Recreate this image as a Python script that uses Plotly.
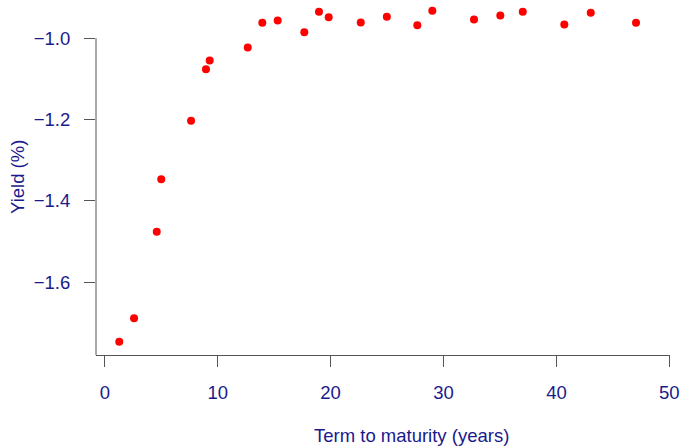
import plotly.graph_objects as go

term_years = [1.28, 2.59, 4.60, 5.00, 7.64, 8.96, 9.29, 12.66, 13.95, 15.31, 17.67,
              18.97, 19.83, 22.67, 24.98, 27.68, 29.01, 32.70, 35.03, 37.02, 40.70,
              43.04, 47.05]
yield_pct = [-1.747, -1.689, -1.476, -1.347, -1.203, -1.076, -1.055, -1.023, -0.962,
             -0.956, -0.985, -0.935, -0.948, -0.961, -0.947, -0.968, -0.932, -0.954,
             -0.944, -0.935, -0.966, -0.937, -0.962]
x_ticks = [0, 10, 20, 30, 40, 50]
y_ticks = [-1.6, -1.4, -1.2, -1.0]
y_tick_labels = ["\u22121.6", "\u22121.4", "\u22121.2", "\u22121.0"]

TXT = "#1a1a8c"
AX = "#555555"
FONT = "Liberation Sans, Arial, sans-serif"
FS = 18.5

Y_LO, Y_HI = -1.7795, -0.9058

fig = go.Figure()
fig.add_trace(go.Scatter(
    x=term_years, y=yield_pct, mode="markers",
    marker=dict(color="#ff0000", size=8, line=dict(width=0)),
    cliponaxis=False, showlegend=False,
))

fig.update_layout(
    width=682, height=446,
    margin=dict(l=96, r=12, t=0, b=91),
    paper_bgcolor="white", plot_bgcolor="white",
    font=dict(family=FONT, size=FS, color=TXT),
    xaxis=dict(
        range=[-0.78, 50.06], tickvals=x_ticks, showgrid=False, zeroline=False,
        showline=True, linecolor=AX, linewidth=1,
        ticks="outside", ticklen=11, tickcolor=AX, tickwidth=1,
        tickfont=dict(size=FS, color=TXT, family=FONT), ticklabelstandoff=10,
    ),
    yaxis=dict(
        range=[Y_LO, Y_HI], tickvals=y_ticks, ticktext=y_tick_labels,
        showgrid=False, zeroline=False, showline=False,
        ticks="outside", ticklen=11, tickcolor=AX, tickwidth=1,
        tickfont=dict(size=FS, color=TXT, family=FONT), ticklabelstandoff=10,
    ),
    shapes=[dict(type="line", xref="paper", yref="y", x0=0, x1=0,
                 y0=Y_LO, y1=y_ticks[-1], line=dict(color=AX, width=1))],
    annotations=[
        dict(text="Term to maturity (years)", xref="paper", yref="paper",
             x=(411 - 96) / 574, y=-(435 - 355) / 355, showarrow=False,
             xanchor="center", yanchor="middle", font=dict(size=FS, color=TXT, family=FONT)),
        dict(text="Yield (%)", xref="paper", yref="paper",
             x=-(96 - 17) / 574, y=(355 - 177) / 355, showarrow=False, textangle=-90,
             xanchor="center", yanchor="middle", font=dict(size=FS, color=TXT, family=FONT)),
    ],
)

fig.write_html("out.html", config={"displayModeBar": False},
               post_script="document.body.style.margin='0';")
